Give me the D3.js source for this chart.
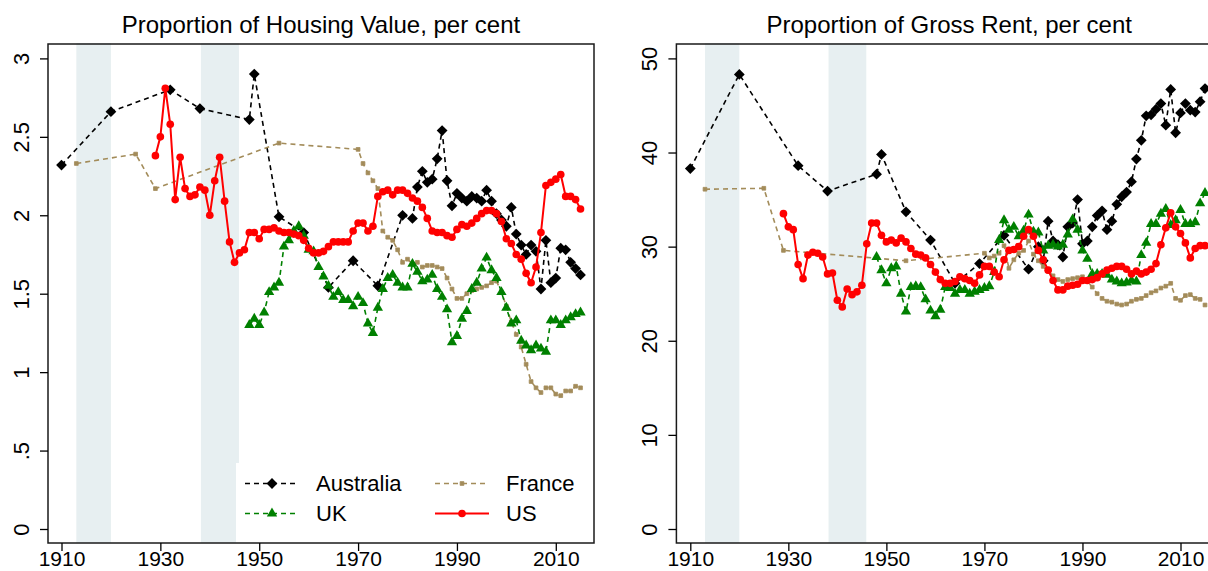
<!DOCTYPE html>
<html>
<head>
<meta charset="utf-8">
<script src="https://cdn.jsdelivr.net/npm/d3@7"></script>
<style>
  body { margin: 0; background: #fff; }
  text { font-family: "Liberation Sans", Arial, Helvetica, sans-serif; fill: #000; }
</style>
</head>
<body>
<svg id="chart" width="1208" height="571"></svg>
<script>
const width = 1208, height = 571;

// shaded war periods (years)
const warBands = [[1913, 1920], [1938.2, 1945.9]];
const xTicks = [1910, 1930, 1950, 1970, 1990, 2010];
const hvTicks = [0, 0.5, 1, 1.5, 2, 2.5, 3];
const hvTickLabels = ['0', '.5', '1', '1.5', '2', '2.5', '3'];
const grTicks = [0, 10, 20, 30, 40, 50];
const grTickLabels = ['0', '10', '20', '30', '40', '50'];

// ---- Proportion of Housing Value ----
const ausHvYears = [1910, 1920, 1932, 1938, 1948, 1949, 1954, 1959, 1964, 1969, 1974, 1979, 1981, ...d3.range(1982, 2016)];
const ausHv = [2.32, 2.66, 2.80, 2.68, 2.61, 2.90, 1.99, 1.89, 1.54, 1.71, 1.55, 2.00, 1.98,
  2.18, 2.28, 2.21, 2.23, 2.36, 2.54, 2.22, 2.06, 2.14, 2.11,
  2.09, 2.12, 2.11, 2.09, 2.16, 2.09, 2.01, 1.97, 1.93, 2.05,
  1.88, 1.81, 1.75, 1.81, 1.77, 1.53, 1.84, 1.57, 1.60, 1.79,
  1.78, 1.70, 1.66, 1.62];
const fraHvYears = [1913, 1925, 1929, 1954, 1970, ...d3.range(1971, 2016)];
const fraHv = [2.33, 2.39, 2.17, 2.46, 2.42,
  2.33, 2.27, 2.22, 2.17, 1.90, 1.86, 1.84, 1.78, 1.70, 1.72,
  1.69, 1.70, 1.67, 1.68, 1.68, 1.67, 1.66, 1.60, 1.53, 1.47,
  1.47, 1.50, 1.52, 1.53, 1.54, 1.55, 1.57, 1.58, 1.51, 1.42,
  1.32, 1.24, 1.16, 1.05, 0.94, 0.90, 0.87, 0.90, 0.90, 0.86,
  0.85, 0.88, 0.88, 0.91, 0.90];
const ukHvYears = d3.range(1948, 2016);
const ukHv = [1.30, 1.34, 1.30, 1.38, 1.51, 1.54, 1.57, 1.80, 1.84, 1.90,
  1.93, 1.87, 1.78, 1.77, 1.67, 1.61, 1.55, 1.48, 1.51, 1.46,
  1.46, 1.42, 1.48, 1.44, 1.31, 1.25, 1.41, 1.53, 1.60, 1.62,
  1.57, 1.54, 1.54, 1.69, 1.64, 1.58, 1.59, 1.62, 1.53, 1.48,
  1.40, 1.19, 1.23, 1.34, 1.39, 1.53, 1.57, 1.66, 1.73, 1.65,
  1.60, 1.51, 1.41, 1.31, 1.33, 1.20, 1.17, 1.14, 1.17, 1.15,
  1.13, 1.33, 1.33, 1.30, 1.33, 1.35, 1.37, 1.38];
const usHvYears = d3.range(1929, 2016);
const usHv = [2.38, 2.50, 2.81, 2.58, 2.10, 2.37, 2.17, 2.12, 2.13, 2.18,
  2.16, 2.00, 2.22, 2.37, 2.09, 1.83, 1.70, 1.76, 1.78, 1.89,
  1.89, 1.85, 1.91, 1.91, 1.92, 1.90, 1.89, 1.89, 1.88, 1.87,
  1.84, 1.79, 1.76, 1.76, 1.77, 1.80, 1.83, 1.83, 1.83, 1.83,
  1.90, 1.95, 1.95, 1.90, 1.93, 2.12, 2.15, 2.16, 2.13, 2.16,
  2.16, 2.14, 2.11, 2.09, 2.05, 1.98, 1.90, 1.89, 1.89, 1.87,
  1.86, 1.91, 1.94, 1.93, 1.95, 1.98, 2.01, 2.03, 2.03, 2.01,
  1.96, 1.85, 1.82, 1.75, 1.72, 1.63, 1.57, 1.67, 1.89, 2.19,
  2.21, 2.23, 2.26, 2.12, 2.12, 2.10, 2.04];

// ---- Proportion of Gross Rent ----
const ausGrYears = [1910, 1920, 1932, 1938, 1948, 1949, 1954, 1959, 1964, 1969, 1974, 1979, 1981, ...d3.range(1982, 2016)];
const ausGr = [38.3, 48.3, 38.6, 35.9, 37.7, 39.8, 33.7, 30.7, 26.1, 28.2, 31.2, 27.6, 30.0,
  28.5, 32.7, 30.6, 30.2, 28.9, 32.1, 32.5, 35.0, 30.3, 30.6,
  32.1, 33.3, 33.8, 31.8, 32.7, 34.5, 35.3, 35.8, 36.9, 39.3,
  41.3, 43.9, 44.0, 44.6, 45.2, 42.9, 46.7, 42.1, 44.2, 45.2,
  44.5, 44.3, 45.4, 46.8];
const fraGrYears = [1913, 1925, 1929, 1954, ...d3.range(1970, 2016)];
const fraGr = [36.1, 36.2, 29.6, 28.5,
  29.3, 28.8, 29.0, 29.3, 30.1, 27.7, 28.6, 29.3, 29.6, 30.6,
  29.2, 28.5, 27.9, 27.4, 26.9, 26.5, 26.3, 26.5, 26.6, 26.7,
  26.8, 26.3, 25.7, 25.0, 24.5, 24.2, 24.1, 23.9, 23.8, 23.9,
  24.2, 24.4, 24.5, 24.8, 25.1, 25.3, 25.6, 25.8, 26.1, 24.5,
  24.3, 24.8, 24.9, 24.5, 24.4, 23.8];
const ukGrYears = d3.range(1948, 2016);
const ukGr = [28.9, 27.5, 26.1, 27.7, 27.9, 25.0, 23.1, 25.7, 25.8, 25.7,
  24.4, 23.2, 22.6, 23.3, 25.7, 25.6, 25.0, 25.4, 25.4, 25.0,
  25.2, 25.4, 25.6, 25.8, 27.3, 30.7, 32.8, 31.8, 32.1, 31.1,
  31.7, 33.4, 31.6, 31.5, 29.6, 30.1, 30.2, 30.0, 30.2, 31.3,
  32.9, 31.8, 29.6, 28.7, 27.1, 27.1, 27.1, 27.0, 26.5, 26.3,
  26.1, 26.2, 26.4, 26.3, 29.1, 30.4, 32.4, 32.4, 33.5, 34.0,
  32.3, 32.8, 33.9, 32.4, 32.4, 32.6, 34.6, 35.7];
const usGrYears = d3.range(1929, 2016);
const usGr = [33.5, 32.1, 31.8, 28.1, 26.6, 29.1, 29.4, 29.3, 28.9, 27.1,
  27.2, 24.3, 23.6, 25.5, 24.9, 25.2, 25.9, 30.3, 32.5, 32.5,
  31.2, 30.5, 30.7, 30.4, 30.9, 30.5, 29.8, 29.2, 29.1, 28.8,
  28.1, 27.3, 26.5, 26.1, 26.1, 26.3, 26.8, 26.6, 26.4, 26.1,
  27.0, 27.9, 27.9, 27.3, 26.8, 28.6, 29.6, 29.7, 30.0, 31.1,
  31.8, 31.1, 29.6, 28.6, 27.5, 26.4, 25.4, 25.4, 25.8, 25.9,
  26.0, 26.4, 26.4, 26.5, 26.7, 27.1, 27.5, 27.7, 27.9, 27.9,
  27.6, 27.1, 27.4, 27.1, 27.3, 27.6, 28.2, 30.2, 32.0, 33.6,
  32.1, 31.4, 30.4, 28.8, 29.8, 30.1, 30.1];

const styles = {
  Australia: {color: '#000000', dash: '5,4', width: 1.6, marker: 'diamond'},
  France: {color: '#a38c5a', dash: '5,4', width: 1.6, marker: 'smallsquare'},
  UK: {color: '#008000', dash: '5,4', width: 1.6, marker: 'triangle'},
  US: {color: '#ff0000', dash: null, width: 2, marker: 'circle'}
};

const svg = d3.select('#chart');
svg.append('rect').attr('width', width).attr('height', height).attr('fill', '#fff');

function markerPath(type) {
  if (type === 'diamond') return d3.symbol(d3.symbolSquare, 58)();
  if (type === 'triangle') return d3.symbol(d3.symbolTriangle, 46)();
  if (type === 'circle') return d3.symbol(d3.symbolCircle, 46)();
  return d3.symbol(d3.symbolSquare, 14)();
}

function drawMarker(g, type, color, x, y) {
  g.append('path')
    .attr('d', markerPath(type))
    .attr('transform', `translate(${x},${y})` + (type === 'diamond' ? ' rotate(45)' : ''))
    .attr('fill', color)
    .attr('stroke', type === 'smallsquare' ? color : 'none')
    .attr('stroke-width', 0.8);
}

function drawPanel(p) {
  const g = svg.append('g');
  const x = d3.scaleLinear().domain([1910, 2010]).range(p.xRange);
  const y = d3.scaleLinear().domain(p.yDomain).range([529, 58.4]);

  // war bands
  g.selectAll('rect.band')
    .data(warBands)
    .enter().append('rect')
    .attr('class', 'band')
    .attr('x', d => x(d[0]))
    .attr('width', d => x(d[1]) - x(d[0]))
    .attr('y', p.top - 1)
    .attr('height', p.bottom - p.top + 1)
    .attr('fill', '#e7eff1');

  // series
  const line = d3.line().x(d => x(d[0])).y(d => y(d[1]));
  for (const s of p.series) {
    const st = styles[s.name];
    const pts = s.years.map((yr, i) => [yr, s.values[i]]);
    g.append('path')
      .datum(pts)
      .attr('d', line)
      .attr('fill', 'none')
      .attr('stroke', st.color)
      .attr('stroke-width', st.width)
      .attr('stroke-dasharray', st.dash);
    for (const d of pts) drawMarker(g, st.marker, st.color, x(d[0]), y(d[1]));
  }

  if (p.legend) {
    const lg = g.append('g');
    lg.append('rect')
      .attr('x', 236).attr('y', 463)
      .attr('width', p.right - 236).attr('height', p.bottom - 463)
      .attr('fill', '#fff');
    const items = [
      {name: 'Australia', x0: 245, tx: 316, ly: 483.5},
      {name: 'France', x0: 435, tx: 506, ly: 483.5},
      {name: 'UK', x0: 245, tx: 316, ly: 513.5},
      {name: 'US', x0: 435, tx: 506, ly: 513.5}
    ];
    for (const it of items) {
      const st = styles[it.name];
      lg.append('line')
        .attr('x1', it.x0).attr('x2', it.x0 + 54)
        .attr('y1', it.ly).attr('y2', it.ly)
        .attr('stroke', st.color)
        .attr('stroke-width', st.width)
        .attr('stroke-dasharray', st.dash);
      drawMarker(lg, st.marker, st.color, it.x0 + 27, it.ly);
      lg.append('text')
        .attr('x', it.tx).attr('y', it.ly + 7.5)
        .style('font-size', '22px')
        .text(it.name);
    }
  }

  // frame
  g.append('rect')
    .attr('x', p.left).attr('y', p.top)
    .attr('width', p.right - p.left).attr('height', p.bottom - p.top)
    .attr('fill', 'none')
    .attr('stroke', '#1a1a1a')
    .attr('stroke-width', 1.5);

  // axes
  const yAxis = g.append('g')
    .attr('transform', `translate(${p.left},0)`)
    .call(d3.axisLeft(y).tickValues(p.yTicks).tickFormat((d, i) => p.yLabels[i]).tickSize(8));
  yAxis.select('.domain').remove();
  yAxis.selectAll('line').attr('stroke', '#000').attr('stroke-width', 1.3);
  yAxis.selectAll('text')
    .attr('transform', 'rotate(-90)')
    .attr('x', 0).attr('y', -19).attr('dy', 0)
    .attr('text-anchor', 'middle')
    .style('font-size', '22px');

  const xAxis = g.append('g')
    .attr('transform', `translate(0,${p.bottom})`)
    .call(d3.axisBottom(x).tickValues(xTicks).tickFormat(d3.format('d')).tickSize(8));
  xAxis.select('.domain').remove();
  xAxis.selectAll('line').attr('stroke', '#000').attr('stroke-width', 1.3);
  xAxis.selectAll('text')
    .attr('y', 23).attr('dy', 0)
    .style('font-size', '21px');

  g.append('text')
    .attr('x', (p.left + p.right) / 2)
    .attr('y', 33)
    .attr('text-anchor', 'middle')
    .style('font-size', '24px')
    .text(p.title);
}

drawPanel({
  title: 'Proportion of Housing Value, per cent',
  left: 48, right: 594, top: 44, bottom: 543,
  xRange: [61.5, 555.8],
  yDomain: [0, 3], yTicks: hvTicks, yLabels: hvTickLabels,
  legend: true,
  series: [
    {name: 'Australia', years: ausHvYears, values: ausHv},
    {name: 'France', years: fraHvYears, values: fraHv},
    {name: 'UK', years: ukHvYears, values: ukHv},
    {name: 'US', years: usHvYears, values: usHv}
  ]
});

drawPanel({
  title: 'Proportion of Gross Rent, per cent',
  left: 676.4, right: 1222, top: 44, bottom: 543,
  xRange: [690.3, 1180.5],
  yDomain: [0, 50], yTicks: grTicks, yLabels: grTickLabels,
  legend: false,
  series: [
    {name: 'Australia', years: ausGrYears, values: ausGr},
    {name: 'France', years: fraGrYears, values: fraGr},
    {name: 'UK', years: ukGrYears, values: ukGr},
    {name: 'US', years: usGrYears, values: usGr}
  ]
});
</script>
</body>
</html>
